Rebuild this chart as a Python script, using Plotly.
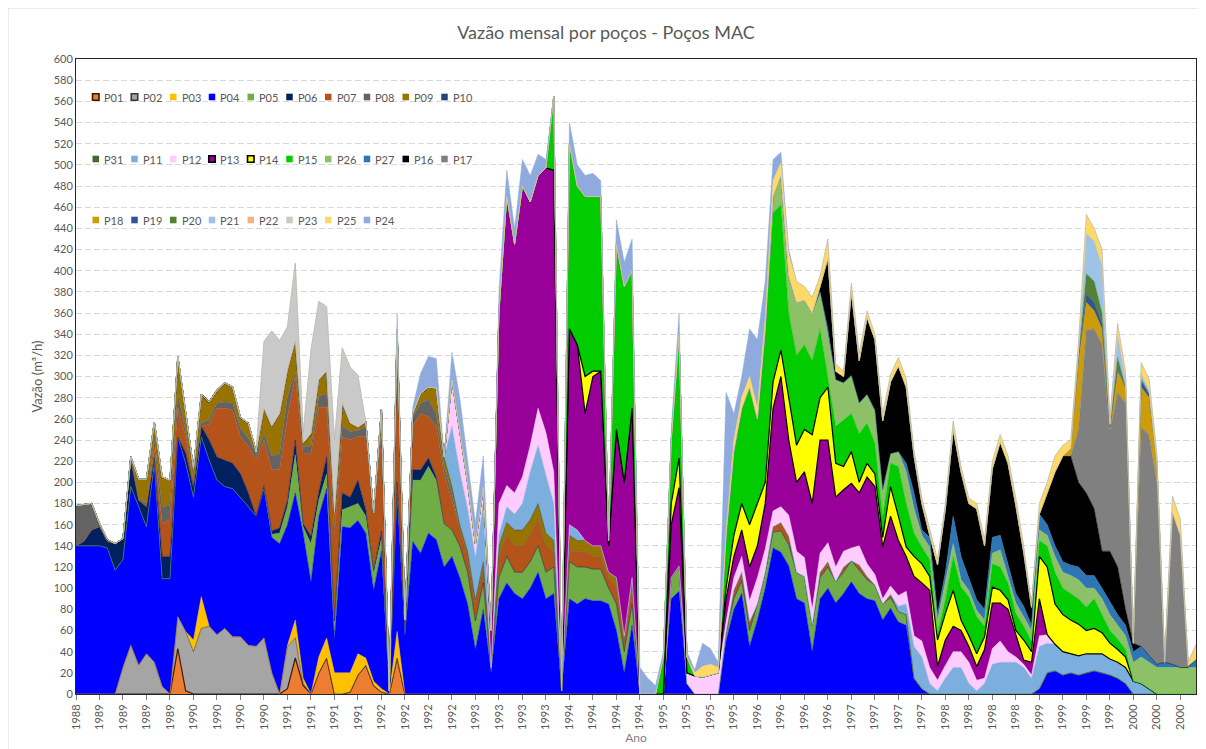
import plotly.graph_objects as go

# ---------------- DATA (monthly values, m3/h, Oct-1988 .. Sep-2000) ----------------
months = list(range(144))
tick_pos = list(range(0, 144, 3))
tick_years = ['1988',
              '1989', '1989', '1989', '1989', '1990', '1990', '1990', '1990',
              '1991', '1991', '1991', '1991', '1992', '1992', '1992', '1992',
              '1993', '1993', '1993', '1993', '1994', '1994', '1994', '1994',
              '1995', '1995', '1995', '1995', '1996', '1996', '1996', '1996',
              '1997', '1997', '1997', '1997', '1998', '1998', '1998', '1998',
              '1999', '1999', '1999', '1999', '2000', '2000', '2000']

Z12 = [0, 0, 0, 0, 0, 0, 0, 0, 0, 0, 0, 0]

p01 = ([0, 0, 0, 0, 0, 0, 0, 0, 0, 0, 0, 0] +
       [0, 43, 3, 0, 0, 0, 0, 0, 0, 0, 0, 0] +
       [0, 0, 0, 5, 34, 8, 0, 20, 34, 0, 0, 2] +
       [18, 27, 8, 2, 0, 34, 0, 0, 0, 0, 0, 0] + Z12 * 8)
p02 = ([0, 0, 0, 0, 0, 0, 25, 46, 27, 38, 30, 7] +
       [0, 30, 56, 40, 62, 64, 56, 62, 54, 54, 46, 45] +
       [53, 20, 0, 40, 19, 2, 0, 0, 0, 0, 0, 0] + Z12 * 9)
p03 = (Z12 +
       [0, 0, 0, 11, 30, 0, 0, 0, 0, 0, 0, 0] +
       [0, 0, 0, 1, 17, 5, 0, 15, 19, 20, 20, 18] +
       [20, 7, 4, 3, 0, 25, 0, 0, 0, 0, 0, 0] + Z12 * 8)
p04 = ([140, 140, 140, 140, 138, 117, 102, 150, 150, 120, 188, 102] +
       [109, 170, 159, 135, 151, 157, 146, 134, 140, 132, 131, 123] +
       [141, 128, 142, 114, 120, 137, 106, 133, 141, 31, 138, 137] +
       [126, 118, 86, 130, 3, 131, 55, 144, 133, 152, 146, 120] +
       [130, 110, 85, 42, 80, 20, 90, 105, 95, 90, 100, 115] +
       [90, 95, 3, 90, 85, 90, 88, 88, 85, 60, 20, 65] +
       [0, 0, 0, 0, 90, 97, 10, 0, 0, 0, 0, 50] +
       [80, 95, 45, 70, 100, 138, 134, 121, 90, 86, 40, 90] +
       [100, 86, 95, 106, 95, 90, 88, 70, 81, 68, 65, 15] +
       [5, 0, 0, 0, 0, 0, 0, 0, 0, 0, 0, 0] +
       [0, 0, 0, 5, 20, 22, 18, 20, 18, 20, 22, 20] +
       [18, 15, 10, 0, 0, 0, 0, 0, 0, 0, 0, 0])
p05 = (Z12 * 2 +
       [0, 3, 10, 17, 36, 6, 36, 15, 14, 15, 16, 20] +
       [16, 16, 16, 12, 0, 5, 5, 58, 69, 63, 56, 41] +
       [25, 30, 30, 27, 25, 5, 20, 25, 20, 25, 25, 25] +
       [25, 25, 0, 35, 35, 30, 30, 30, 15, 25, 20, 20] +
       [0, 0, 0, 0, 20, 24, 0, 0, 0, 0, 0, 8] +
       [10, 12, 15, 15, 15, 15, 20, 20, 25, 25, 25, 20] +
       [20, 20, 20, 20, 22, 18, 15, 15, 10, 10, 10, 0] + Z12 * 3)
p06 = ([0, 4, 15, 18, 6, 25, 19, 25, 6, 19, 5, 21] +
       [21, 0, 10, 9, 10, 19, 22, 25, 24, 22, 13, 0] +
       [3, 3, 5, 6, 14, 3, 7, 8, 16, 3, 16, 9] +
       [22, 6, 3, 7, 0, 5, 0, 10, 10, 8, 3, 0] + Z12 * 8)
p07 = ([0, 0, 0, 0, 0, 0, 0, 0, 0, 0, 10, 31] +
       [35, 28, 15, 5, 0, 15, 46, 49, 50, 35, 44, 53] +
       [43, 58, 55, 79, 61, 66, 78, 80, 47, 81, 53, 54] +
       [41, 69, 54, 88, 0, 125, 10, 41, 53, 39, 48, 47] +
       [28, 15, 15, 15, 15, 0, 20, 20, 25, 25, 25, 25] +
       [25, 15, 0, 10, 15, 15, 12, 12, 10, 15, 10, 15] +
       Z12 +
       [8, 8, 8, 0, 0, 5, 8, 8, 0, 0, 0, 5] +
       [5, 0, 5, 0, 5, 3, 0, 0, 3, 0, 0, 0] + Z12 * 3)
p08 = ([38, 35, 25, 3, 2, 0, 1, 3, 2, 3, 8, 16] +
       [13, 13, 5, 0, 3, 4, 5, 6, 7, 8, 8, 5] +
       [6, 13, 15, 19, 5, 7, 7, 10, 13, 5, 10, 8] +
       [6, 10, 0, 8, 0, 5, 0, 9, 10, 16, 12, 7] +
       [7, 0, 0, 0, 0, 0, 0, 0, 0, 0, 0, 0] + Z12 * 7)
p09 = ([0, 0, 0, 0, 0, 0, 0, 0, 18, 23, 16, 28] +
       [24, 35, 20, 13, 27, 17, 12, 18, 15, 10, 14, 3] +
       [24, 28, 38, 25, 28, 3, 12, 16, 21, 16, 22, 8] +
       [3, 4, 0, 19, 0, 14, 0, 3, 9, 12, 24, 9] +
       [6, 5, 5, 5, 5, 0, 10, 12, 15, 15, 15, 15] +
       [12, 10, 0, 15, 10, 10, 10, 10, 5, 10, 5, 10] + Z12 * 6)
p10 = Z12 * 12
p31 = Z12 * 12
p11 = (Z12 * 4 +
       [57, 50, 40, 40, 55, 0, 10, 15, 15, 25, 45, 55] +
       [55, 35, 0, 10, 10, 0, 0, 0, 0, 0, 0, 0] +
       Z12 * 2 +
       [0, 0, 0, 0, 0, 0, 0, 0, 0, 5, 10, 30] +
       [30, 10, 3, 15, 25, 25, 10, 3, 10, 28, 30, 30] +
       [30, 25, 15, 40, 28, 25, 22, 18, 18, 18, 16, 18] +
       [15, 15, 15, 12, 10, 5, 0, 0, 0, 0, 0, 0])
p12 = (Z12 * 4 +
       [44, 40, 25, 13, 15, 0, 30, 20, 20, 25, 25, 35] +
       [40, 30, 0, 0, 0, 0, 0, 0, 0, 0, 0, 0] +
       [0, 0, 0, 0, 0, 0, 10, 17, 16, 18, 20, 10] +
       [12, 15, 20, 25, 22, 15, 15, 20, 20, 18, 15, 18] +
       [18, 14, 15, 12, 18, 12, 10, 5, 8, 10, 12, 10] +
       [15, 15, 10, 12, 15, 15, 20, 10, 5, 15, 20, 10] +
       [5, 3, 3, 10, 8, 0, 0, 0, 0, 0, 0, 0] + Z12)
p13 = (Z12 * 4 +
       [0, 0, 0, 0, 0, 35, 180, 273, 235, 275, 230, 220] +
       [250, 285, 0, 185, 175, 120, 160, 165, 25, 140, 145, 160] +
       [0, 0, 0, 0, 50, 74, 0, 0, 0, 0, 0, 22] +
       [20, 25, 32, 30, 43, 97, 123, 71, 65, 81, 100, 107] +
       [97, 66, 58, 61, 50, 82, 83, 49, 66, 52, 33, 56] +
       [55, 73, 13, 24, 24, 20, 15, 13, 27, 43, 36, 40] +
       [22, 4, 12, 35, 0, 0, 0, 0, 0, 0, 0, 0] + Z12)
p14 = (Z12 * 5 +
       [0, 0, 0, 0, 0, 35, 5, 0, 0, 0, 0, 0] +
       [0, 0, 0, 0, 20, 28, 0, 0, 0, 0, 0, 10] +
       [20, 25, 40, 40, 20, 25, 25, 40, 35, 40, 65, 40] +
       [50, 32, 22, 30, 10, 13, 12, 9, 28, 23, 9, 19] +
       [18, 13, 25, 25, 34, 10, 10, 12, 12, 15, 12, 9] +
       [3, 19, 10, 40, 64, 38, 35, 32, 30, 22, 24, 20] +
       [15, 12, 10, 0, 0, 0, 0, 0, 0, 0, 0, 0])
p15 = (Z12 * 5 +
       [0, 70, 0, 175, 150, 170, 165, 165, 5, 175, 185, 130] +
       [0, 0, 0, 35, 60, 117, 15, 0, 0, 0, 0, 50] +
       [80, 90, 130, 80, 140, 160, 137, 80, 85, 80, 70, 65] +
       [10, 35, 44, 36, 46, 38, 29, 19, 22, 47, 41, 22] +
       [16, 16, 6, 13, 32, 31, 37, 35, 10, 22, 22, 16] +
       [16, 13, 10, 15, 20, 30, 25, 25, 24, 22, 28, 17] +
       [12, 10, 7, 0, 0, 0, 0, 0, 0, 0, 0, 0])
p26 = (Z12 * 7 +
       [0, 0, 0, 0, 5, 15, 28, 35, 50, 42, 45, 35] +
       [40, 44, 35, 36, 29, 27, 31, 26, 9, 14, 30, 23] +
       [11, 12, 13, 16, 12, 7, 6, 6, 6, 10, 16, 6] +
       [10, 9, 10, 10, 10, 15, 15, 17, 18, 18, 10, 15] +
       [15, 13, 13, 18, 25, 25, 25, 25, 25, 25, 25, 25])
p27 = (Z12 * 8 +
       [5, 0, 0, 0, 0, 0, 0, 0, 0, 0, 8, 15] +
       [5, 9, 6, 10, 26, 22, 12, 10, 10, 15, 14, 12] +
       [9, 10, 5, 15, 10, 10, 10, 10, 12, 12, 12, 10] +
       [13, 10, 10, 10, 10, 6, 3, 5, 3, 0, 0, 8])
p16 = (Z12 * 7 +
       [0, 0, 0, 0, 0, 0, 0, 0, 0, 0, 0, 5] +
       [67, 8, 6, 79, 40, 73, 67, 65, 68, 81, 72, 35] +
       [25, 2, 46, 60, 82, 80, 70, 86, 60, 65, 88, 95] +
       [83, 51, 17, 0, 30, 70, 100, 103, 80, 78, 63, 35] +
       [47, 45, 15, 8, 0, 0, 0, 0, 0, 0, 0, 0])
p17 = (Z12 * 10 +
       [0, 0, 0, 0, 0, 0, 0, 0, 50, 154, 170, 195] +
       [114, 165, 195, 0, 207, 209, 172, 0, 142, 125, 2, 0])
p18 = (Z12 * 10 +
       [0, 0, 0, 0, 0, 0, 0, 7, 65, 26, 17, 15] +
       [3, 20, 15, 0, 38, 35, 20, 0, 2, 0, 0, 0])
p19 = (Z12 * 10 +
       [0, 0, 0, 0, 0, 0, 0, 0, 3, 8, 8, 5] +
       [0, 3, 0, 0, 6, 4, 0, 0, 0, 0, 0, 0])
p20 = (Z12 * 10 +
       [0, 0, 0, 0, 0, 0, 0, 0, 2, 19, 20, 10] +
       [0, 10, 0, 0, 2, 0, 0, 0, 0, 0, 0, 0])
p21 = (Z12 * 10 +
       [0, 0, 0, 0, 0, 0, 0, 0, 5, 38, 38, 45] +
       [3, 22, 8, 0, 5, 4, 0, 0, 0, 0, 0, 0])
p22 = Z12 * 12
p23 = (Z12 * 2 +
       [63, 90, 69, 41, 73, 9, 79, 74, 61, 69, 52, 53] +
       [49, 0, 0, 0, 0, 0, 0, 0, 0, 0, 0, 0] + Z12 * 8)
p25 = (Z12 * 6 +
       [0, 0, 0, 0, 0, 0, 0, 3, 10, 10, 5, 5] +
       [10, 10, 10, 10, 10, 15, 12, 20, 20, 13, 15, 10] +
       [18, 7, 5, 8, 7, 6, 5, 7, 7, 8, 8, 5] +
       [5, 5, 5, 5, 8, 5, 5, 5, 6, 7, 7, 7] +
       [7, 6, 3, 10, 10, 15, 10, 8, 7, 18, 12, 15] +
       [5, 10, 7, 4, 10, 10, 8, 5, 15, 15, 3, 14])
p24 = (Z12 * 3 +
       [0, 0, 0, 0, 0, 16, 0, 6, 19, 29, 28, 0] +
       [26, 30, 20, 20, 30, 0, 20, 25, 15, 25, 25, 20] +
       [8, 0, 0, 20, 20, 20, 22, 15, 0, 23, 23, 30] +
       [25, 15, 8, 5, 10, 20, 5, 3, 22, 15, 5, 130] +
       [25, 20, 45, 65, 35, 20, 10, 5, 0, 0, 0, 0] + Z12 * 4)

# stacking order (bottom -> top), colours, outline
series = [
    ('P01', p01, '#ED7D31', '#3B1A05', 1.2),
    ('P02', p02, '#A5A5A5', '#3A3A3A', 0.6),
    ('P03', p03, '#FFC000', None, 0),
    ('P04', p04, '#0000FF', None, 0),
    ('P05', p05, '#70AD47', None, 0),
    ('P06', p06, '#002060', None, 0),
    ('P07', p07, '#B4531A', None, 0),
    ('P08', p08, '#636363', None, 0),
    ('P09', p09, '#997300', None, 0),
    ('P10', p10, '#264478', None, 0),
    ('P31', p31, '#43682B', None, 0),
    ('P11', p11, '#7CAFDD', None, 0),
    ('P12', p12, '#FFCCFF', None, 0),
    ('P13', p13, '#990099', '#000000', 1.2),
    ('P14', p14, '#FFFF00', '#000000', 1.2),
    ('P15', p15, '#00CC00', None, 0),
    ('P26', p26, '#8CC168', None, 0),
    ('P27', p27, '#2E75B6', None, 0),
    ('P16', p16, '#000000', None, 0),
    ('P17', p17, '#808080', None, 0),
    ('P18', p18, '#CC9C0A', None, 0),
    ('P19', p19, '#2F5597', None, 0),
    ('P20', p20, '#548235', None, 0),
    ('P21', p21, '#9DC3E6', None, 0),
    ('P22', p22, '#F4B183', None, 0),
    ('P23', p23, '#C9C9C9', None, 0),
    ('P25', p25, '#FFD966', None, 0),
    ('P24', p24, '#8FAADC', None, 0),
]

legend_rows = [
    ['P01', 'P02', 'P03', 'P04', 'P05', 'P06', 'P07', 'P08', 'P09', 'P10'],
    ['P31', 'P11', 'P12', 'P13', 'P14', 'P15', 'P26', 'P27', 'P16', 'P17'],
    ['P18', 'P19', 'P20', 'P21', 'P22', 'P23', 'P25', 'P24'],
]

# ---------------- FIGURE ----------------
# the page body adds an 8 px offset, so the figure is laid out 8 px up/left
OFF = 8
W, H = 1206, 749
PL, PT, PW, PH = 76, 59, 1120, 635          # plot area in screenshot pixels
L, T = PL - OFF, PT - OFF
R, B = W - L - PW, H - T - PH
FONT = 'Lato'


def xp(px):
    return (px - PL) / PW


def yp(py):
    return (PT + PH - py) / PH


fig = go.Figure()
for name, vals, col, lcol, lw in series:
    fig.add_trace(go.Scatter(
        x=months, y=vals, name=name, mode='lines', stackgroup='one',
        fillcolor=col,
        line=dict(color=lcol if lcol else col, width=lw if lcol else 0.5),
        showlegend=False, hoverinfo='name+y'))

shapes = []
annotations = []
# outer chart frame (top + left edge visible in the picture)
shapes.append(dict(type='line', xref='paper', yref='paper', x0=xp(8), x1=xp(1300),
                   y0=yp(8), y1=yp(8), line=dict(color='#D9D9D9', width=1)))
shapes.append(dict(type='line', xref='paper', yref='paper', x0=xp(8), x1=xp(8),
                   y0=yp(8), y1=yp(800), line=dict(color='#D9D9D9', width=1)))
# legend background
shapes.append(dict(type='rect', xref='paper', yref='paper', x0=xp(86), x1=xp(472),
                   y0=yp(236), y1=yp(83), fillcolor='white', line=dict(width=0),
                   layer='between'))
colmap = {s[0]: (s[2], s[3]) for s in series}
row_y = [97, 159, 220]
for r, row in enumerate(legend_rows):
    for k, nm in enumerate(row):
        x0 = 92.5 + 38.75 * k
        cy = row_y[r]
        fc, lc = colmap[nm]
        shapes.append(dict(type='rect', xref='paper', yref='paper',
                           x0=xp(x0), x1=xp(x0 + 6.5), y0=yp(cy + 3.3), y1=yp(cy - 3.3),
                           fillcolor=fc,
                           line=dict(color=lc if lc else fc, width=1.6 if lc else 0),
                           layer='above'))
        annotations.append(dict(xref='paper', yref='paper', x=xp(x0 + 9.5), y=yp(cy),
                                text=nm, showarrow=False, xanchor='left', yanchor='middle',
                                font=dict(family=FONT, size=11, color='#595959')))

fig.update_layout(
    width=W, height=H,
    margin=dict(l=L, r=R, t=T, b=B, autoexpand=False),
    paper_bgcolor='white', plot_bgcolor='white',
    font=dict(family=FONT, color='#595959'),
    title=dict(text='Vazão mensal por poços - Poços MAC', x=(606 - OFF) / W, xref='container',
               y=1 - (33 - OFF) / H, yref='container', xanchor='center', yanchor='middle',
               font=dict(family=FONT, size=18, color='#595959')),
    xaxis=dict(range=[0, 143], tickmode='array', tickvals=tick_pos, ticktext=tick_years,
               tickangle=-90, ticks='outside', ticklen=5, tickcolor='#808080',
               showgrid=False, zeroline=False, showline=True, mirror=True,
               linecolor='#262626', linewidth=1, automargin=False,
               tickfont=dict(family=FONT, size=11, color='#595959'),
               title=dict(text='Ano', standoff=3,
                          font=dict(family=FONT, size=12, color='#7F7F7F'))),
    yaxis=dict(range=[0, 600], tick0=0, dtick=20, showgrid=True, gridcolor='#D9D9D9',
               griddash='6px,3px', gridwidth=1, zeroline=False, showline=True,
               mirror=True, linecolor='#262626', linewidth=1, ticks='', automargin=False,
               tickfont=dict(family=FONT, size=11, color='#595959'),
               title=dict(text='Vazão (m³/h)', standoff=8,
                          font=dict(family=FONT, size=13, color='#595959'))),
    shapes=shapes, annotations=annotations,
    showlegend=False,
)

fig.write_html('out.html')
